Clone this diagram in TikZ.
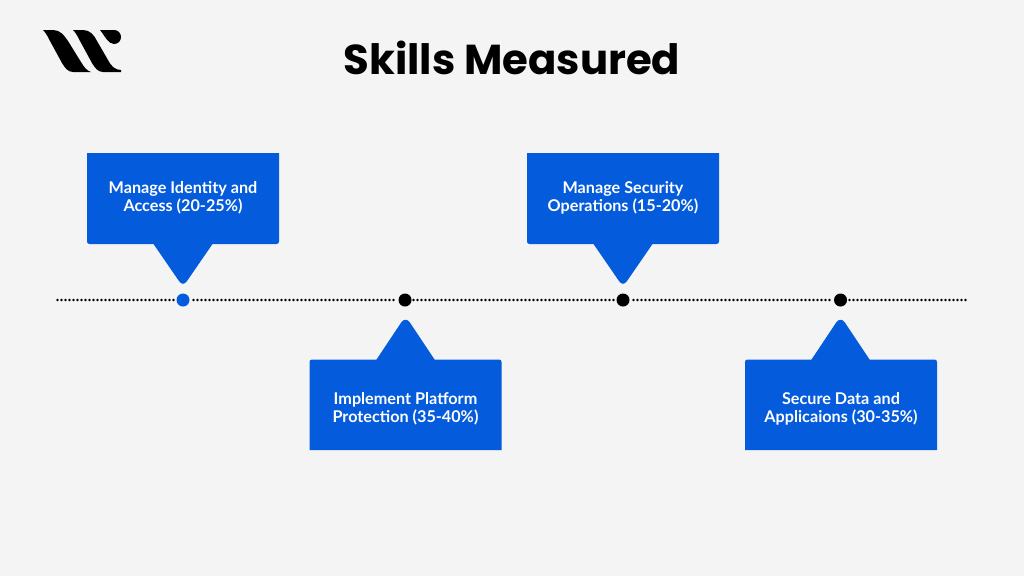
\documentclass[tikz,border=0pt]{standalone}
\usepackage{fontspec}
\setmainfont{Lato}
\newfontfamily\titlefont{Poppins}
\definecolor{bluebox}{HTML}{045BDB}
\definecolor{paper}{HTML}{F4F4F4}
\tikzset{
  calloutfill/.style={fill=bluebox,draw=none},
  calloutlabel/.style={text=white,align=center,font=\bfseries\fontsize{16.2}{18.2}\selectfont,inner sep=0pt},
  markerdot/.style={circle,fill=black,draw=none,minimum size=13pt,inner sep=0pt},
  logomark/.style={fill=black,draw=none}
}
\begin{document}
\begin{tikzpicture}[x=1pt,y=-1pt]
\useasboundingbox (0,0) rectangle (1024,576);
\fill[paper] (0,0) rectangle (1024,576);
% logo
\fill[logomark] (43,30) -- (53,30) .. controls (60,30) and (64,35) .. (68,41) -- (81,62) .. controls (84,67) and (87,71) .. (91,72) -- (73,72) .. controls (68,72) and (65,68) .. (62,63) -- (50,41) .. controls (48,37) and (46,33) .. (43,30) -- cycle;
\fill[logomark] (73,30) -- (83,30) .. controls (90,30) and (94,35) .. (97,41) -- (108,60) .. controls (111,66) and (115,70) .. (121,70) -- (121,72) -- (103,72) .. controls (98,72) and (95,68) .. (92,63) -- (80,41) .. controls (78,37) and (76,33) .. (73,30) -- cycle;
\fill[logomark] (100,30) -- (114,30) .. controls (118,30) and (121,33) .. (121,37) .. controls (121,41) and (118,44) .. (114,44) .. controls (108,44) and (105,36) .. (100,30) -- cycle;
% title
\node[font=\titlefont\bfseries\fontsize{41.8}{48}\selectfont,inner sep=0pt] (title) at (512,58) {Skills Measured};
% timeline: individual dots, leaving a gap round each marker
\foreach \k in {0,...,227}{
  \pgfmathsetmacro{\px}{57.5+4*\k}
  \pgfmathsetmacro{\keep}{(abs(\px-183)>8)&&(abs(\px-405)>8)&&(abs(\px-623)>8)&&(abs(\px-840.5)>8)}
  \ifdim\keep pt>0.5pt
    \fill[black] (\px,300) circle[radius=1.3pt];
  \fi
}
\node[markerdot,fill=bluebox] (d1) at (183,300) {};
\node[markerdot] (d2) at (405,300) {};
\node[markerdot] (d3) at (623,300) {};
\node[markerdot] (d4) at (840.5,300) {};
% callouts above
\foreach \l/\c in {87/183,527/623}{
  \fill[calloutfill] (\l,153) -- (\l+192,153) -- (\l+192,241.5)
    .. controls (\l+192,243) and (\l+191,244) .. (\l+189.5,244)
    -- (\c+29.5,244) -- (\c+3.7,281.5)
    .. controls (\c+1.5,284.5) and (\c-1.5,284.5) .. (\c-3.7,281.5)
    -- (\c-29.5,244) -- (\l+2.5,244)
    .. controls (\l+1,244) and (\l,243) .. (\l,241.5) -- cycle;
}
% callouts below
\foreach \l/\c in {309.5/405.5,745/840.5}{
  \fill[calloutfill] (\l,450) -- (\l,362)
    .. controls (\l,360.5) and (\l+1,359.5) .. (\l+2.5,359.5)
    -- (\c-29,359.5) -- (\c-4,322)
    .. controls (\c-1.5,319) and (\c+1.5,319) .. (\c+4,322)
    -- (\c+29,359.5) -- (\l+189.5,359.5)
    .. controls (\l+191,359.5) and (\l+192,360.5) .. (\l+192,362)
    -- (\l+192,450) -- cycle;
}
\node[calloutlabel] (t1) at (183,198) {Manage Identity and\\Access (20-25\%)};
\node[calloutlabel] (t2) at (405.5,409) {Implement Platform\\Protection (35-40\%)};
\node[calloutlabel] (t3) at (623,198) {Manage Security\\Operations (15-20\%)};
\node[calloutlabel] (t4) at (841,409) {Secure Data and\\Applicaions (30-35\%)};
\end{tikzpicture}
\end{document}
